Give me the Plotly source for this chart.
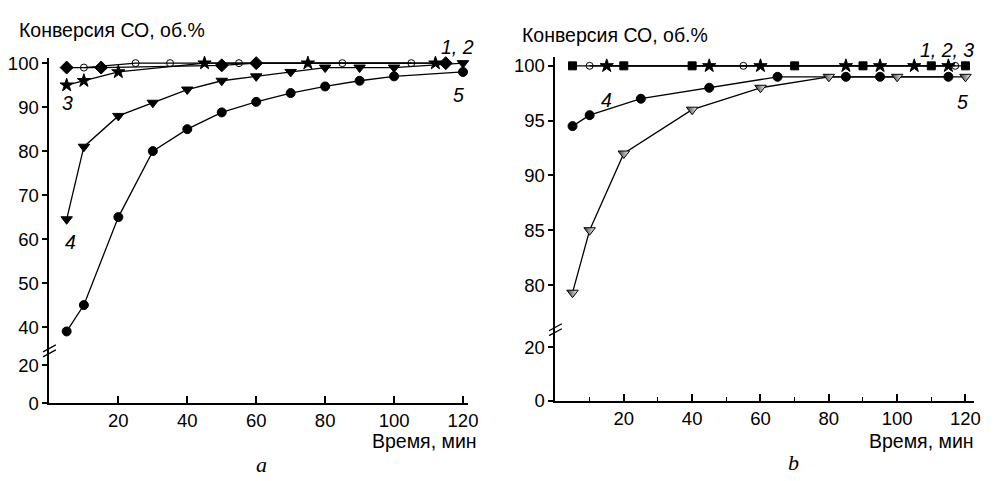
import plotly.graph_objects as go

# The page body has an 8 px default margin; the captured picture comes out slightly
# compressed vertically (about 0.975), so target picture pixels are mapped to page pixels.
OFF = 8
SX, SY = 1.0, 0.975
W, H = 979, 474

# ---------------- data: panel a ----------------
a1_t = [5, 15, 50, 60, 115]
a1_v = [99, 99, 99.5, 100, 100]
a2_t = [10, 25, 35, 55, 85, 105]
a2_v = [99, 100, 100, 100, 100, 100]
a3_t = [5, 10, 20, 45, 75, 112]
a3_v = [95, 96, 98, 100, 100, 100]
a4_t = [5, 10, 20, 30, 40, 50, 60, 70, 80, 90, 100, 120]
a4_v = [64.5, 81, 88, 91, 94, 96, 97, 98, 99, 99, 99, 100]
a5_t = [5, 10, 20, 30, 40, 50, 60, 70, 80, 90, 100, 120]
a5_v = [39, 45, 65, 80, 85, 88.8, 91.2, 93.2, 94.7, 96, 97, 98]

# ---------------- data: panel b ----------------
b1_t = [5, 20, 40, 70, 90, 110, 120]
b1_v = [100, 100, 100, 100, 100, 100, 100]
b2_t = [10, 55, 117]
b2_v = [100, 100, 100]
b3_t = [15, 45, 60, 85, 95, 105, 115]
b3_v = [100, 100, 100, 100, 100, 100, 100]
b4_t = [5, 10, 25, 45, 65, 85, 95, 115]
b4_v = [94.5, 95.5, 97, 98, 99, 99, 99, 99]
b5_t = [5, 10, 20, 40, 60, 80, 100, 120]
b5_v = [79.3, 85, 92, 96, 98, 99, 99, 99]

a_upper_ticks = [40, 50, 60, 70, 80, 90, 100]
b_upper_ticks = [80, 85, 90, 95, 100]
lower_ticks = [0, 20]
x_ticks = [20, 40, 60, 80, 100, 120]

y_title = "Конверсия СО, об.%"
x_title = "Время, мин"

FONT = "Liberation Sans, Arial, sans-serif"
FS = 18.5
TS = 19.5


def px(x):
    return min(1.0, max(0.0, (x / SX - OFF) / W))


def py(y):
    return min(1.0, max(0.0, 1 - (y / SY - OFF) / H))


fig = go.Figure()

LINE = dict(color="black", width=1.3)


def add(t, v, sym, size, xa, ya, fill="black", extra=None):
    m = dict(symbol=sym, size=size, color=fill, line=dict(color="black", width=1))
    if extra:
        m.update(extra)
    fig.add_trace(go.Scatter(x=t, y=v, mode="lines+markers", line=LINE, marker=m,
                             xaxis=xa, yaxis=ya, showlegend=False, cliponaxis=False))


# empty traces so the lower (broken) axis segments are created as subplots
fig.add_trace(go.Scatter(x=[None], y=[None], xaxis="x", yaxis="y2", showlegend=False,
                         hoverinfo="skip"))
fig.add_trace(go.Scatter(x=[None], y=[None], xaxis="x2", yaxis="y4", showlegend=False,
                         hoverinfo="skip"))

# panel a: xaxis x, upper y, lower y2
add(a2_t, a2_v, "circle-open", 7, "x", "y")
add(a3_t, a3_v, "star", 10, "x", "y")
add(a1_t, a1_v, "diamond", 10, "x", "y")
add(a4_t, a4_v, "triangle-down", 10, "x", "y")
add(a5_t, a5_v, "circle", 9, "x", "y")

# panel b: xaxis x2, upper y3, lower y4
add(b2_t, b2_v, "circle-open", 7, "x2", "y3")
add(b3_t, b3_v, "star", 10, "x2", "y3")
add(b1_t, b1_v, "square", 8, "x2", "y3")
add(b4_t, b4_v, "circle", 9, "x2", "y3")
add(b5_t, b5_v, "triangle-down", 10, "x2", "y3", fill="#333",
    extra=dict(gradient=dict(type="horizontal", color="white")))

tickfont = dict(family=FONT, size=FS, color="black")
common_y = dict(showgrid=False, zeroline=False, showline=True, linecolor="black", linewidth=2,
                ticks="outside", ticklen=5, tickwidth=1.5, tickcolor="black", tickfont=tickfont)
common_x = dict(showgrid=False, zeroline=False, showline=True, linecolor="black", linewidth=2,
                ticks="inside", ticklen=7, tickwidth=1.5, tickcolor="black", tickfont=tickfont,
                tickvals=x_ticks)

# geometry (target picture pixels)
aL, aR = 45, 470
a_x0, a_brk, a_top = 400.7, 348, 53
bL, bR = 558.9, 984
b_x0, b_brk, b_top = 398.3, 326.7, 51.7
a_y40, a_y100 = 324, 58.3
b_y80, b_y100 = 281.7, 61
a_y20, b_y20 = 362.7, 344.3
a_t20, b_t20 = 115, 628.3


def lin(p0, v0, p1, v1, p):
    return v0 + (p - p0) * (v1 - v0) / (p1 - p0)


fig.update_layout(
    width=W, height=H, margin=dict(l=0, r=0, t=0, b=0),
    paper_bgcolor="white", plot_bgcolor="rgba(0,0,0,0)",
    xaxis=dict(domain=[px(aL), px(aR)], range=[0, lin(aL, 0, a_t20, 20, aR)], anchor="y2",
               **common_x),
    yaxis=dict(domain=[py(a_brk), py(a_top)],
               range=[lin(a_y40, 40, a_y100, 100, a_brk), lin(a_y40, 40, a_y100, 100, a_top)],
               anchor="x", tickvals=a_upper_ticks, **common_y),
    yaxis2=dict(domain=[py(a_x0), py(a_brk)], range=[0, lin(a_x0, 0, a_y20, 20, a_brk)],
                anchor="x", tickvals=lower_ticks, **common_y),
    xaxis2=dict(domain=[px(bL), px(bR)], range=[0, lin(bL, 0, b_t20, 20, bR)], anchor="y4",
                minor=dict(ticks="inside", dtick=10, tick0=0, ticklen=4, tickwidth=1.3,
                           tickcolor="black"),
                **common_x),
    yaxis3=dict(domain=[py(b_brk), py(b_top)],
                range=[lin(b_y80, 80, b_y100, 100, b_brk), lin(b_y80, 80, b_y100, 100, b_top)],
                anchor="x2", tickvals=b_upper_ticks, **common_y),
    yaxis4=dict(domain=[py(b_x0), py(b_brk)], range=[0, lin(b_x0, 0, b_y20, 20, b_brk)],
                anchor="x2", tickvals=lower_ticks, **common_y),
)


def ann(text, x, y, xanchor="center", italic=False, serif=False, size=TS):
    fam = "Liberation Serif, Times New Roman, serif" if serif else FONT
    t = f"<i>{text}</i>" if italic else text
    fig.add_annotation(text=t, x=px(x), y=py(y), xref="paper", yref="paper",
                       xanchor=xanchor, yanchor="middle", showarrow=False,
                       font=dict(family=fam, size=size, color="black"))


ann(y_title, 12, 25, xanchor="left")
ann(y_title, 523, 30, xanchor="left")
ann(x_title, 481, 439, xanchor="right")
ann(x_title, 986, 439, xanchor="right")
ann("1, 2", 459, 42, italic=True)
ann("5", 460, 90, italic=True)
ann("3", 63, 98, italic=True)
ann("4", 66, 238, italic=True)
ann("1, 2, 3", 986, 45, xanchor="right", italic=True)
ann("5", 972, 97, italic=True)
ann("4", 611, 95, italic=True)
ann("a", 260, 462, italic=True, serif=True, size=22)
ann("b", 801, 460, italic=True, serif=True, size=22)

# axis break marks
for (xc, yc) in [(aL, a_brk), (bL, b_brk)]:
    for dy in (-2.5, 2.5):
        fig.add_shape(type="line", xref="paper", yref="paper",
                      x0=px(xc - 6.5), y0=py(yc + dy + 3.5), x1=px(xc + 6.5), y1=py(yc + dy - 3.5),
                      line=dict(color="black", width=1.3))

fig.write_html("out.html", config=dict(displayModeBar=False))
